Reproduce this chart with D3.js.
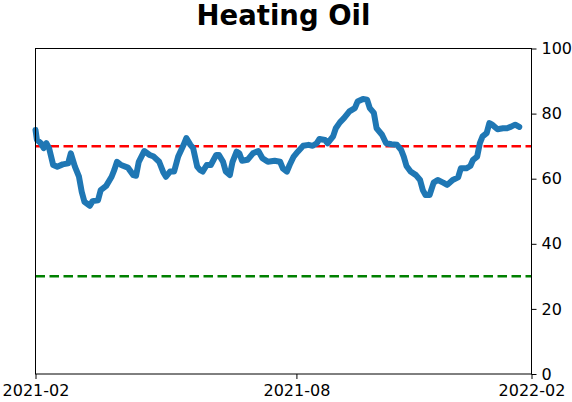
<!DOCTYPE html>
<html>
<head>
<meta charset="utf-8">
<script src="https://cdn.jsdelivr.net/npm/d3@7"></script>
<style>
  body { margin: 0; background: #fff; }
  svg { display: block; }
  text { font-family: "DejaVu Sans", sans-serif; fill: #000; }
</style>
</head>
<body>
<div id="chart"></div>
<script>
// data
var dates = [
  "2021-02-01","2021-02-02","2021-02-05","2021-02-07","2021-02-09","2021-02-11","2021-02-14","2021-02-17",
  "2021-02-21","2021-02-25","2021-02-27","2021-03-02","2021-03-05","2021-03-07","2021-03-09","2021-03-13",
  "2021-03-15","2021-03-19","2021-03-21","2021-03-25","2021-03-29","2021-03-31","2021-04-02","2021-04-05",
  "2021-04-10","2021-04-14","2021-04-16","2021-04-18","2021-04-22","2021-04-26","2021-04-29","2021-05-03",
  "2021-05-06","2021-05-08","2021-05-11","2021-05-14","2021-05-17","2021-05-21","2021-05-23","2021-05-26",
  "2021-05-28","2021-05-31","2021-06-02","2021-06-04","2021-06-07","2021-06-10","2021-06-14","2021-06-16",
  "2021-06-19","2021-06-21","2021-06-24","2021-06-26","2021-06-29","2021-07-01","2021-07-03","2021-07-07",
  "2021-07-11","2021-07-15","2021-07-18","2021-07-22","2021-07-27","2021-07-31","2021-08-02","2021-08-05",
  "2021-08-07","2021-08-10","2021-08-13","2021-08-17","2021-08-21","2021-08-24","2021-08-27","2021-08-29",
  "2021-09-02","2021-09-04","2021-09-08","2021-09-10","2021-09-13","2021-09-16","2021-09-20","2021-09-24",
  "2021-09-26","2021-09-30","2021-10-03","2021-10-05","2021-10-08","2021-10-10","2021-10-14","2021-10-17",
  "2021-10-21","2021-10-25","2021-10-28","2021-10-30","2021-11-01","2021-11-04","2021-11-08","2021-11-11",
  "2021-11-13","2021-11-15","2021-11-18","2021-11-21","2021-11-24","2021-11-28","2021-12-01","2021-12-05",
  "2021-12-09","2021-12-11","2021-12-15","2021-12-18","2021-12-20","2021-12-23","2021-12-25","2021-12-27",
  "2021-12-30","2022-01-01","2022-01-03","2022-01-07","2022-01-11","2022-01-14","2022-01-17","2022-01-20",
  "2022-01-23"
];
var values = [
  75.0, 72.0, 70.9, 69.4, 70.9, 69.4, 64.2, 63.7,
  64.4, 64.7, 67.8, 63.7, 60.6, 56.0, 52.9, 51.7,
  53.1, 53.4, 56.5, 57.8, 60.6, 62.7, 65.2, 64.2,
  63.4, 61.1, 60.9, 65.2, 68.5, 67.3, 66.8, 65.2,
  62.0, 60.6, 62.2, 62.2, 66.8, 70.4, 72.5, 70.4,
  69.4, 63.7, 62.7, 62.2, 64.2, 64.2, 67.3, 67.3,
  65.2, 62.2, 61.1, 65.2, 68.3, 67.8, 65.5, 65.8,
  67.8, 68.5, 66.3, 65.2, 65.5, 65.2, 63.2, 62.2,
  64.2, 66.8, 68.3, 70.1, 70.4, 70.1, 70.9, 72.2,
  71.9, 70.9, 73.0, 75.5, 77.3, 78.6, 80.7, 81.7,
  83.7, 84.5, 84.3, 81.7, 80.2, 75.5, 73.5, 70.9,
  70.6, 70.4, 68.9, 66.8, 63.9, 62.2, 61.1, 59.6,
  56.5, 55.0, 55.0, 58.8, 59.6, 58.8, 58.1, 59.6,
  60.4, 63.2, 63.2, 63.9, 65.8, 66.8, 70.9, 73.0,
  74.0, 77.1, 76.6, 75.2, 75.5, 75.5, 76.0, 76.6,
  75.9
];
var upperLevel = 70;
var lowerLevel = 30;
var yTicks = [0, 20, 40, 60, 80, 100];
var xDomain = ["2021-02-01", "2022-02-01"];
var xTickDates = ["2021-02-01", "2021-08-12", "2022-02-01"];
var title = "Heating Oil";

var width = 572, height = 402;
var margin = {top: 48.5, right: 40.5, bottom: 28, left: 35.5};
var parse = d3.timeParse("%Y-%m-%d");

var series = dates.map(function(d, i) { return {date: parse(d), value: values[i]}; });

var svg = d3.select("#chart").append("svg")
    .attr("width", width)
    .attr("height", height);

var x = d3.scaleTime()
    .domain(xDomain.map(parse))
    .range([margin.left, width - margin.right]);

var y = d3.scaleLinear()
    .domain([0, 100])
    .range([height - margin.bottom, margin.top]);

// title
svg.append("text")
    .attr("x", (margin.left + width - margin.right) / 2)
    .attr("y", 25)
    .attr("text-anchor", "middle")
    .style("font-size", "27.5px")
    .style("font-weight", "bold")
    .text(title);

// reference lines
svg.append("line")
    .attr("x1", x.range()[0]).attr("x2", x.range()[1])
    .attr("y1", y(upperLevel)).attr("y2", y(upperLevel))
    .attr("stroke", "#ff0000")
    .attr("stroke-width", 2.5)
    .attr("stroke-dasharray", "9.5,4.5");

svg.append("line")
    .attr("x1", x.range()[0]).attr("x2", x.range()[1])
    .attr("y1", y(lowerLevel)).attr("y2", y(lowerLevel))
    .attr("stroke", "#008000")
    .attr("stroke-width", 2.5)
    .attr("stroke-dasharray", "9.5,4.5");

// the series
var line = d3.line()
    .x(function(d) { return x(d.date); })
    .y(function(d) { return y(d.value); });

svg.append("path")
    .datum(series)
    .attr("d", line)
    .attr("fill", "none")
    .attr("stroke", "#1f77b4")
    .attr("stroke-width", 6)
    .attr("stroke-linejoin", "round")
    .attr("stroke-linecap", "round");

// frame
svg.append("rect")
    .attr("x", margin.left)
    .attr("y", margin.top)
    .attr("width", width - margin.right - margin.left)
    .attr("height", height - margin.bottom - margin.top)
    .attr("fill", "none")
    .attr("stroke", "#000")
    .attr("stroke-width", 1);

// axes
var xAxis = d3.axisBottom(x)
    .tickValues(xTickDates.map(parse))
    .tickFormat(d3.timeFormat("%Y-%m"))
    .tickSize(5)
    .tickPadding(6);

var yAxis = d3.axisRight(y)
    .tickValues(yTicks)
    .tickSize(5)
    .tickPadding(5);

var gx = svg.append("g")
    .attr("transform", "translate(0," + (height - margin.bottom) + ")")
    .call(xAxis);

var gy = svg.append("g")
    .attr("transform", "translate(" + (width - margin.right) + ",0)")
    .call(yAxis);

[gx, gy].forEach(function(g) {
  g.select(".domain").remove();
  g.selectAll(".tick line").attr("stroke", "#000");
  g.selectAll(".tick text")
      .style("font-family", "'DejaVu Sans', sans-serif")
      .style("font-size", "16px")
      .attr("fill", "#000");
});
</script>
</body>
</html>
